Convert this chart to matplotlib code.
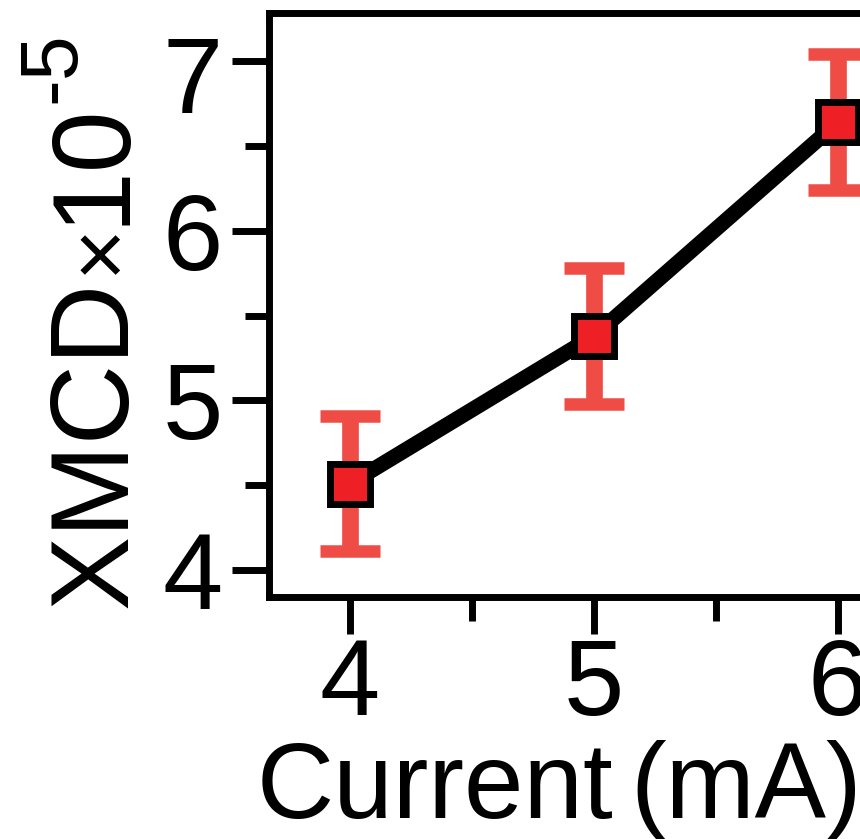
import matplotlib
matplotlib.use("Agg")
import matplotlib.pyplot as plt
from matplotlib.transforms import ScaledTranslation

# data
current = [4, 5, 6]
xmcd = [4.51, 5.38, 6.64]
xmcd_err = [0.40, 0.40, 0.40]

xticks = [4, 5, 6]
yticks = [4, 5, 6, 7]

plt.rcParams['font.family'] = ['Liberation Sans', 'DejaVu Sans']

W, H = 860, 839
fig = plt.figure(figsize=(W / 100, H / 100), dpi=100)
ax = fig.add_axes([0.3128, 0.2884, 0.7468, 0.6961])

ax.errorbar(current, xmcd, yerr=xmcd_err, fmt='none', ecolor='#EF4C46',
            elinewidth=12, capsize=21.5, capthick=9, zorder=1)
ax.plot(current, xmcd, color='black', lw=11, zorder=2, solid_capstyle='butt')
ax.plot(current, xmcd, 's', ms=29.5, mfc='#EE1F25', mec='black', mew=5,
        zorder=3, clip_on=False)

ax.set_xlim(3.668, 6.3)
ax.set_ylim(3.841, 7.283)
ax.set_xticks(xticks)
ax.set_yticks(yticks)
ax.set_xticks([4.5, 5.5], minor=True)
ax.set_yticks([4.5, 5.5, 6.5], minor=True)

for s in ax.spines.values():
    s.set_linewidth(5)
ax.tick_params(which='major', length=26.5, width=5, labelsize=78)
ax.tick_params(which='minor', length=17, width=5)
ax.tick_params(axis='x', pad=2)
ax.tick_params(axis='y', pad=7)

# the top label "7" sits a bit lower than its tick in the original
top = ax.yaxis.get_major_ticks()[-1].label1
top.set_transform(top.get_transform() +
                  ScaledTranslation(0, -0.13, fig.dpi_scale_trans))


def put(px, py, s, size, rot=0):
    # place text by pixel position of its baseline start
    fig.text(px / W, 1 - py / H, s, fontsize=size, rotation=rot,
             rotation_mode='anchor', ha='left', va='baseline')


# x label
put(257, 818, 'Current', 77)
put(630, 818, '(mA)', 77)

# y label, written bottom to top
put(127, 608, 'XMCD', 80, 90)
put(125, 274, '\u00d7', 64, 90)
put(122, 225, '10', 80, 90)
put(74, 103, '-5', 58, 90)

fig.savefig('out.png', dpi=100)
